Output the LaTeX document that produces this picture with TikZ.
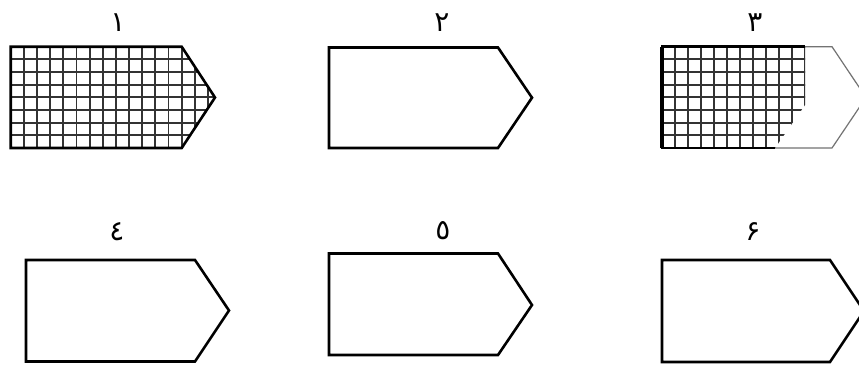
\documentclass[tikz,border=0pt]{standalone}
\usepackage{fontspec}
\newfontfamily\arabicfont[Script=Arabic]{DejaVu Sans}
\begin{document}
\begin{tikzpicture}[x=1pt,y=-1pt,
  outline/.style={draw=black,line width=2.6pt,line join=miter},
  thinline/.style={draw=black!55,line width=1.2pt},
  hatch/.style={draw=black!80,line width=1.8pt},
  lbl/.style={font=\arabicfont\fontsize{28}{28}\selectfont,inner sep=0pt}]
\clip (0,0) rectangle (859,367);
\fill[white] (0,0) rectangle (859,367);

% shape 1 (hatched)
\begin{scope}
  \clip (10.7,46.7) -- (181.7,46.7) -- (215,97.5) -- (181.7,148) -- (10.7,148) -- cycle;
  \foreach \i in {0,...,16} \draw[hatch] ({10.7+13.15*\i},40) -- ++(0,115);
  \foreach \j in {0,...,8} \draw[hatch] (5,{46.7+12.66*\j}) -- ++(220,0);
\end{scope}
\draw[outline] (10.7,46.7) -- (181.7,46.7) -- (215,97.5) -- (181.7,148) -- (10.7,148) -- cycle;
\node[lbl] (l1) at (118,23) {١};

% shape 2
\draw[outline] (329,47.5) -- (498,47.5) -- (532,97.7) -- (498,148) -- (329,148) -- cycle;
\node[lbl] (l2) at (442,23) {٢};

% shape 3 (partly hatched)
\draw[thinline] (662,46.7) -- (832,46.7) -- (866,97.5) -- (832,148) -- (662,148) -- cycle;
\begin{scope}
  \clip (662,46.7) -- (805,46.7) -- (805,105) -- (775,148) -- (662,148) -- cycle;
  \foreach \i in {0,...,11} \draw[hatch] ({662+13*\i},40) -- ++(0,115);
  \foreach \j in {0,...,8} \draw[hatch] (655,{46.7+12.66*\j}) -- ++(160,0);
\end{scope}
\draw[outline] (805,46.7) -- (662,46.7) -- (662,148) -- (775,148);
\draw[black,line width=4pt] (662,46.7) -- (662,148);
\node[lbl] (l3) at (755,23) {٣};

% shape 4
\draw[outline] (26,260) -- (195,260) -- (229,310.5) -- (195,361.5) -- (26,361.5) -- cycle;
\node[lbl] (l4) at (117,232) {٤};

% shape 5
\draw[outline] (329,253.5) -- (498,253.5) -- (532,305) -- (498,355) -- (329,355) -- cycle;
\node[lbl] (l5) at (443,231) {٥};

% shape 6
\draw[outline] (662,260) -- (830,260) -- (864,311) -- (830,362) -- (662,362) -- cycle;
\node[lbl] (l6) at (753,232) {۶};
\end{tikzpicture}
\end{document}
